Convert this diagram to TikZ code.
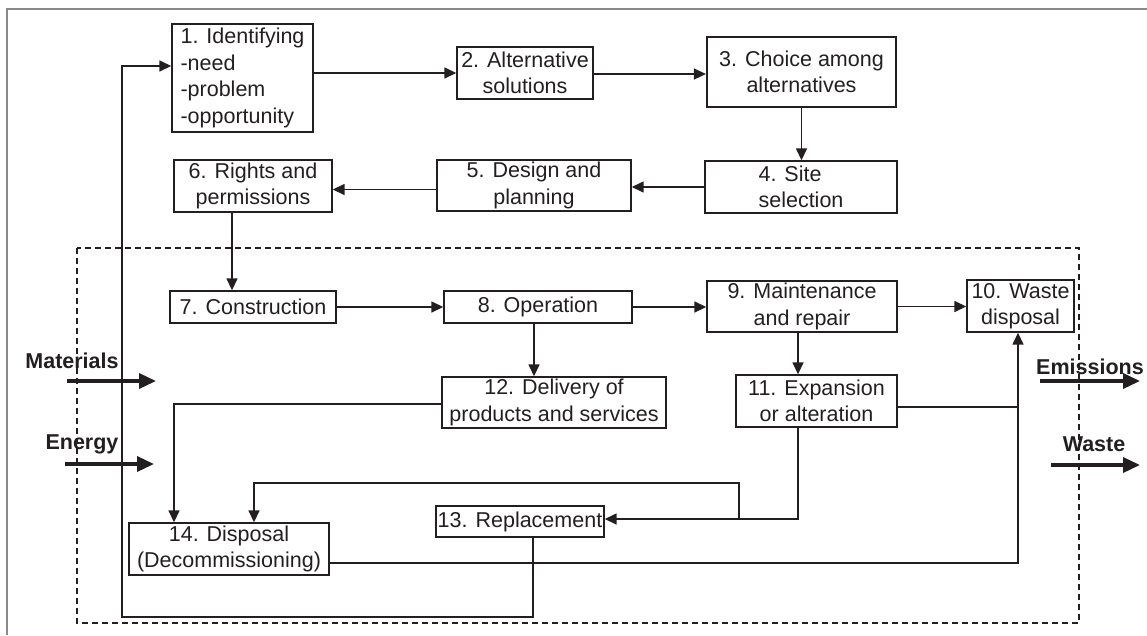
\documentclass[tikz,border=0pt]{standalone}
\usepackage{fontspec}
\setmainfont{Liberation Sans}
\usetikzlibrary{arrows.meta,calc}
\definecolor{ink}{HTML}{231F20}
\definecolor{frame}{HTML}{8A8A8A}
\begin{document}
\begin{tikzpicture}[x=1pt,y=-1pt,
  box/.style={draw=ink, line width=1.4pt, text=ink, font=\fontsize{21.5}{26.5}\selectfont, inner sep=1pt, align=center},
  conn/.style={draw=ink, line width=1.5pt, -{Triangle[length=12pt,width=11pt]}},
  wire/.style={draw=ink, line width=1.5pt},
  flow/.style={draw=ink, line width=3.5pt, -{Triangle[length=17pt,width=15pt]}},
  flowlab/.style={text=ink, font=\fontsize{21.5}{26}\selectfont\bfseries, inner sep=0pt},
  boundary/.style={draw=ink, line width=1.3pt, dash pattern=on 6pt off 4pt}]
\useasboundingbox (0,0) rectangle (1147,635);
% outer frame
\draw[frame, line width=1.2pt] (7,635) -- (7,9) -- (1147,9);
% system boundary
\draw[boundary] (77,248) rectangle (1079,623);
% boxes
\node[box, minimum width=141pt, minimum height=108pt, align=left] (b1) at (242.5,78) {1. Identifying\\-need\\-problem\\-opportunity};
\node[box, minimum width=136pt, minimum height=52pt] (b2) at (525,73) {2. Alternative\\solutions};
\node[box, line width=2.2pt, minimum width=189pt, minimum height=70pt] (b3) at (801.5,72) {3. Choice among\\alternatives};
\node[box, minimum width=192pt, minimum height=52pt, align=left] (b4) at (801,187) {4. Site\\selection};
\node[box, minimum width=194pt, minimum height=51pt] (b5) at (534,185.5) {5. Design and\\planning};
\node[box, minimum width=158pt, minimum height=52pt] (b6) at (253,186) {6. Rights and\\permissions};
\node[box, minimum width=166pt, minimum height=32pt] (b7) at (253,307) {7. Construction};
\node[box, minimum width=188pt, minimum height=32pt] (b8) at (538,307) {8. Operation};
\node[box, minimum width=190pt, minimum height=51pt] (b9) at (802,306.5) {9. Maintenance\\and repair};
\node[box, minimum width=107pt, minimum height=52pt] (b10) at (1020.5,306) {10. Waste\\disposal};
\node[box, minimum width=161pt, minimum height=52pt] (b11) at (816.5,401) {11. Expansion\\or alteration};
\node[box, minimum width=224pt, minimum height=51pt] (b12) at (554,402.5) {12. Delivery of\\products and services};
\node[box, minimum width=168pt, minimum height=31pt] (b13) at (520,521.5) {13. Replacement};
\node[box, minimum width=200pt, minimum height=52pt] (b14) at (229,549) {14. Disposal\\(Decommissioning)};
% helper coordinates
\coordinate (v10) at (1018,563);
\coordinate (jn) at (739,519);
\coordinate (jt) at (739,483);
\coordinate (lb) at (122,617);
% connectors
\draw[conn] (b1.east |- b2.west) -- (b2.west);
\draw[conn] ([yshift=-1pt]b2.east) -- ([yshift=-1pt]b2.east -| b3.west);
\draw[conn] (b3.south) -- (b3.south |- b4.north);
\draw[conn] (b4.west) -- (b4.west -| b5.east);
\draw[conn] ([yshift=-4pt]b5.west) -- ([yshift=-4pt]b5.west -| b6.east);
\draw[conn] ([xshift=-21pt]b6.south) -- ([xshift=-21pt]b6.south |- b7.north);
\draw[conn] (b7.east) -- (b8.west);
\draw[conn] (b8.east) -- (b8.east -| b9.west);
\draw[conn] (b9.east) -- (b9.east -| b10.west);
\draw[conn] ([xshift=-4pt]b8.south) -- ([xshift=-4pt]b8.south |- b12.north);
\draw[conn] ([xshift=-4pt]b9.south) -- ([xshift=-4pt]b9.south |- b11.north);
\draw[wire] ([yshift=-6pt]b11.east) -- ([yshift=-6pt]b11.east -| v10);
\draw[conn] ([yshift=-14pt]b14.east) -- (v10) -- (v10 |- b10.south);
\draw[conn] ([yshift=-1.5pt]b12.west) -| ([xshift=-55pt]b14.north);
\draw[conn] ([xshift=-18.5pt]b11.south) |- ([yshift=2.5pt]b13.east);
\draw[conn] (jn) -- (jt) -| ([xshift=25pt]b14.north);
\draw[conn] ([xshift=13pt]b13.south) |- (lb) |- ([yshift=12pt]b1.west);
% inputs and outputs
\coordinate (m1) at (67,381);  \coordinate (m2) at (156,381);
\coordinate (e1) at (65,464);  \coordinate (e2) at (154,464);
\coordinate (o1) at (1040,381); \coordinate (o2) at (1140,381);
\coordinate (w1) at (1051,465); \coordinate (w2) at (1140,465);
\draw[flow] (m1) -- (m2);
\draw[flow] (e1) -- (e2);
\draw[flow] (o1) -- (o2);
\draw[flow] (w1) -- (w2);
\node[flowlab] (lm) at (72,361) {Materials};
\node[flowlab] (le) at (82,444) {Energy};
\node[flowlab] (lo) at (1090,367) {Emissions};
\node[flowlab] (lw) at (1094,444) {Waste};
\end{tikzpicture}
\end{document}
